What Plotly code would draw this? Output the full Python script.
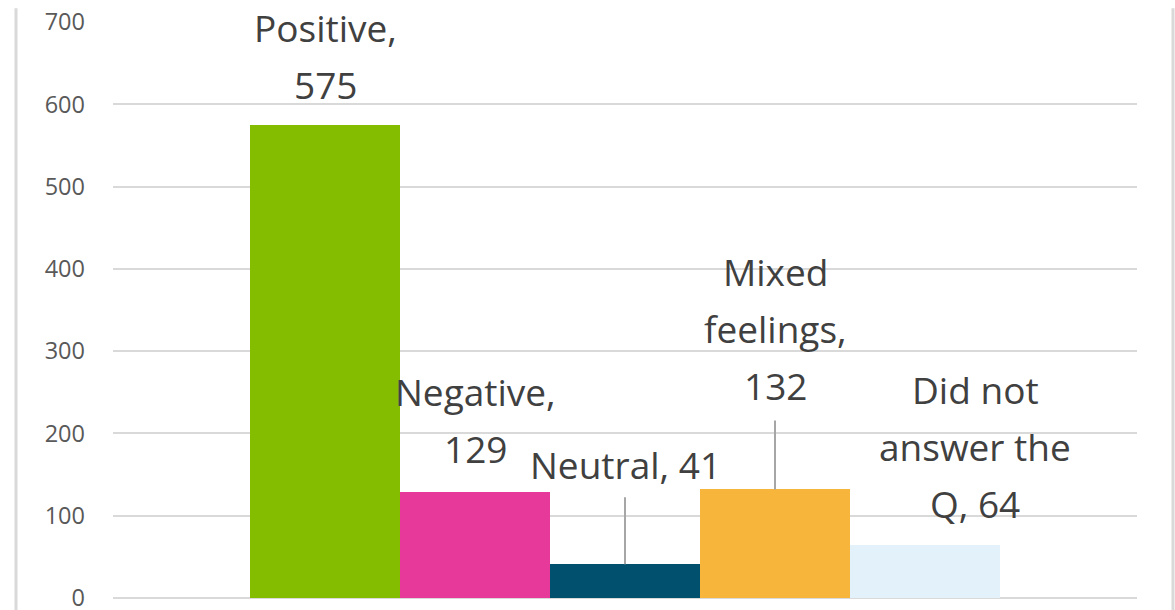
import plotly.graph_objects as go

categories = ["Positive", "Negative", "Neutral", "Mixed feelings", "Did not answer the Q"]
values = [575, 129, 41, 132, 64]
colors = ["#84BD00", "#E6399A", "#00506E", "#F7B53B", "#E3F2FA"]
label_lines = [
    ["Positive,", "575"],
    ["Negative,", "129"],
    ["Neutral, 41"],
    ["Mixed", "feelings,", "132"],
    ["Did not", "answer the", "Q, 64"],
]
# pixel offset (upwards) of the last label line centre above the bar top
label_offsets = [40, 43, 100, 104, 42]
label_dx = [0, 0, 0, 0, 50]
leader = [None, None, 67, 69, None]

LINE_H = 57
FONT = "Open Sans"

fig = go.Figure()
fig.add_trace(go.Bar(
    x=categories, y=values, marker=dict(color=colors, line=dict(width=0)),
    width=1.0, showlegend=False, hoverinfo="x+y",
))

for i, (cat, v) in enumerate(zip(categories, values)):
    lines = label_lines[i]
    n = len(lines)
    for k, txt in enumerate(lines):
        fig.add_annotation(
            x=cat, y=v, xref="x", yref="y", text=txt, showarrow=False,
            xanchor="center", yanchor="middle",
            yshift=label_offsets[i] + (n - 1 - k) * LINE_H, xshift=label_dx[i],
            font=dict(family=FONT, size=37, color="#404040"),
        )
    if leader[i]:
        fig.add_shape(
            type="line", xref="x", yref="y", x0=i, x1=i,
            ysizemode="pixel", yanchor=v, y0=0, y1=leader[i],
            line=dict(color="#A6A6A6", width=2),
        )

# chart frame lines
for xp in [-97 / 1024, 1 + 36 / 1024]:
    fig.add_shape(type="line", xref="paper", yref="paper", x0=xp, x1=xp,
                  y0=-0.05, y1=1.024,
                  line=dict(color="#D9D9D9", width=3), layer="below")

fig.update_layout(
    width=1175, height=610,
    margin=dict(l=113, r=38, t=22, b=12),
    plot_bgcolor="white", paper_bgcolor="white",
    bargap=0,
    xaxis=dict(range=[-1.4133, 5.4133], showticklabels=False, showgrid=False,
               zeroline=False, showline=False, fixedrange=True, automargin=False),
    yaxis=dict(range=[0, 700], dtick=100, showgrid=True, gridcolor="#D9D9D9",
               gridwidth=2, zeroline=True, zerolinecolor="#D9D9D9", zerolinewidth=2,
               showline=False, ticks="", ticklabelstandoff=27,
               ticklabeloverflow="allow", automargin=False,
               tickfont=dict(family=FONT, size=23.5, color="#595959")),
)

fig.write_html("out.html")
